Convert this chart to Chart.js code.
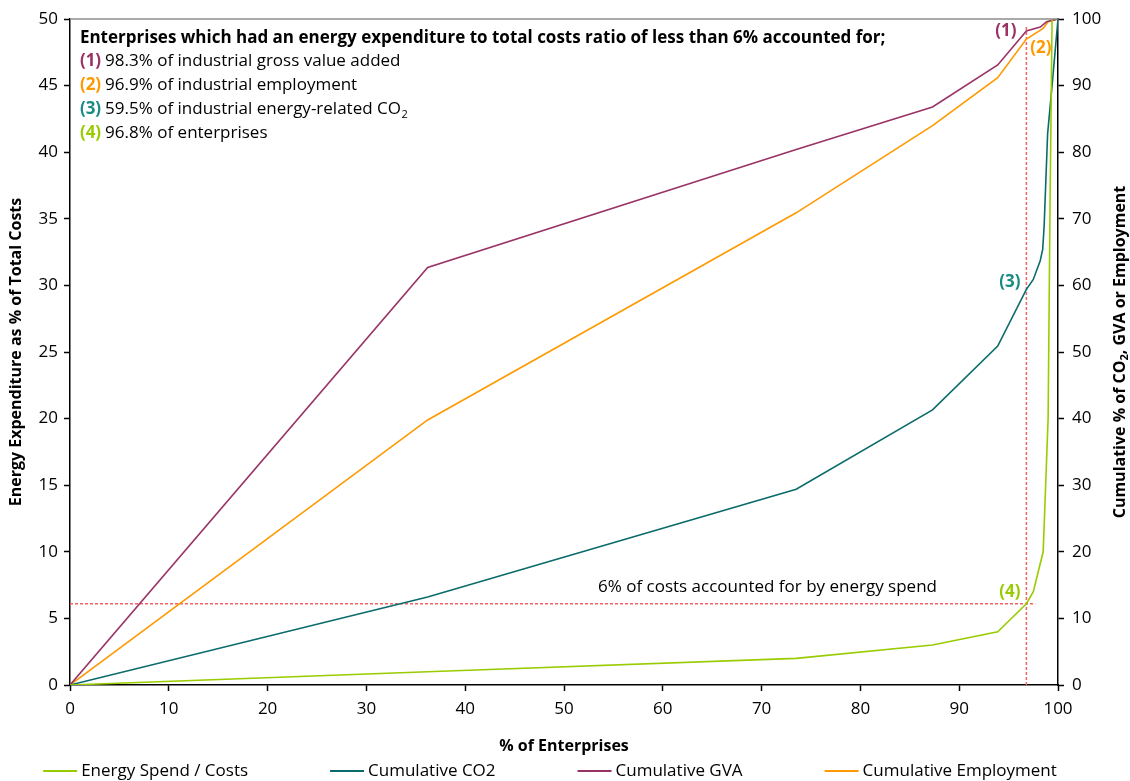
<!DOCTYPE html>
<html>
<head>
<meta charset="utf-8">
<script src="https://cdn.jsdelivr.net/npm/chart.js@4.4.1/dist/chart.umd.min.js"></script>
<style>
  html, body { margin: 0; padding: 0; background: #fff; }
  #wrap { width: 1130px; height: 781px; }
</style>
</head>
<body>
<div id="wrap"><canvas id="grafico" width="1130" height="781"></canvas></div>
<script>
// series: x = % of enterprises
const energyX = [0, 36.2, 73.5, 87.3, 93.9, 96.8, 97.5, 98.5, 98.7, 99.0, 99.2, 99.4];
const energyY = [0, 1.0, 2.0, 3.0, 4.0, 6.1, 7.0, 10.0, 14.0, 20.0, 36.5, 50.0];

const co2X = [0, 36.2, 73.5, 87.3, 93.9, 96.8, 97.5, 98.2, 98.45, 98.6, 98.95, 99.4, 100];
const co2Y = [0, 13.2, 29.4, 41.3, 50.9, 59.4, 60.9, 63.7, 65.4, 69.0, 82.8, 90.0, 100];

const gvaX = [0, 36.2, 73.5, 87.3, 93.9, 96.8, 98.2, 98.85, 100];
const gvaY = [0, 62.7, 80.4, 86.8, 93.1, 98.2, 98.8, 99.6, 100];

const empX = [0, 36.2, 73.5, 87.3, 93.9, 96.8, 98.5, 99.0, 100];
const empY = [0, 39.8, 70.9, 84.0, 91.2, 97.0, 98.6, 99.6, 100];

const seriesNames = ['Energy Spend / Costs', 'Cumulative CO2', 'Cumulative GVA', 'Cumulative Employment'];

// 6% threshold and the share of enterprises under it
const thresholdCost = 6.1;
const thresholdEnterprises = 96.8;

const noteTitle = 'Enterprises which had an energy expenditure to total costs ratio of less than 6% accounted for;';
const noteTags = ['(1)', '(2)', '(3)', '(4)'];
const noteTexts = ['98.3% of industrial gross value added', '96.9% of industrial employment', '59.5% of industrial energy-related CO', '96.8% of enterprises'];
const thresholdText = '6% of costs accounted for by energy spend';
const rightTitle = ['Cumulative % of CO', '2', ', GVA or Employment'];

const cores = ['#99cc00', '#0b6b6b', '#993366', '#ff9900'];
const coresTag = ['#993366', '#ff9900', '#1a8a84', '#99cc00'];
const vermelho = '#f26262';
const FONTE = '"Open Sans", Lato, sans-serif';

const pares = (xs, ys) => xs.map((v, i) => ({ x: v, y: ys[i] }));

const notas = {
    id: 'notas',
    beforeDraw(chart) {
        const { ctx } = chart;
        ctx.save();
        ctx.fillStyle = '#fff';
        ctx.fillRect(0, 0, chart.width, chart.height);
        ctx.restore();
    },
    afterDraw(chart) {
        const { ctx, chartArea: a, scales: { x, y, y2 } } = chart;
        ctx.save();

        // linha cinza no topo
        ctx.strokeStyle = '#8c8c8c';
        ctx.lineWidth = 1.5;
        ctx.beginPath();
        ctx.moveTo(a.left, a.top);
        ctx.lineTo(a.right, a.top);
        ctx.stroke();

        ctx.textBaseline = 'middle';
        ctx.textAlign = 'left';
        const x0 = x.getPixelForValue(1);
        ctx.fillStyle = '#000';
        ctx.font = 'bold 17px ' + FONTE;
        ctx.fillText(noteTitle, x0, a.top + 19);

        noteTags.forEach((tag, i) => {
            const yy = a.top + 42.5 + i * 24;
            ctx.font = 'bold 17px ' + FONTE;
            ctx.fillStyle = coresTag[i];
            ctx.fillText(tag, x0, yy);
            const w = ctx.measureText(tag).width + 4;
            ctx.font = '17px ' + FONTE;
            ctx.fillStyle = '#000';
            ctx.fillText(noteTexts[i], x0 + w, yy);
            if (i === 2) {
                const w2 = ctx.measureText(noteTexts[i]).width;
                ctx.font = '11px ' + FONTE;
                ctx.fillText('2', x0 + w + w2 + 0.5, yy + 5);
            }
        });

        // rótulos junto às curvas
        ctx.font = 'bold 17px ' + FONTE;
        ctx.textAlign = 'right';
        ctx.fillStyle = coresTag[0];
        ctx.fillText(noteTags[0], x.getPixelForValue(95.8), y2.getPixelForValue(98.2));
        ctx.fillStyle = coresTag[2];
        ctx.fillText(noteTags[2], x.getPixelForValue(96.2), y2.getPixelForValue(60.5));
        ctx.fillStyle = coresTag[3];
        ctx.fillText(noteTags[3], x.getPixelForValue(96.2), y.getPixelForValue(7.0));
        ctx.textAlign = 'left';
        ctx.fillStyle = coresTag[1];
        ctx.fillText(noteTags[1], x.getPixelForValue(97.2), y2.getPixelForValue(95.6));

        ctx.font = '17px ' + FONTE;
        ctx.fillStyle = '#000';
        ctx.textAlign = 'right';
        ctx.fillText(thresholdText, x.getPixelForValue(87.75), y.getPixelForValue(7.35));

        // título do eixo direito, lido de baixo para cima
        ctx.save();
        ctx.translate(chart.width - 10, (a.top + a.bottom) / 2);
        ctx.rotate(-Math.PI / 2);
        ctx.font = 'bold 16px ' + FONTE;
        const wa = ctx.measureText(rightTitle[0]).width;
        const wc = ctx.measureText(rightTitle[2]).width;
        ctx.font = 'bold 11px ' + FONTE;
        const wb = ctx.measureText(rightTitle[1]).width;
        let px = -(wa + wb + wc) / 2;
        ctx.textAlign = 'left';
        ctx.fillStyle = '#000';
        ctx.font = 'bold 16px ' + FONTE;
        ctx.fillText(rightTitle[0], px, 0);
        ctx.font = 'bold 11px ' + FONTE;
        ctx.fillText(rightTitle[1], px + wa, 5);
        ctx.font = 'bold 16px ' + FONTE;
        ctx.fillText(rightTitle[2], px + wa + wb, 0);
        ctx.restore();

        // legenda
        ctx.font = '17px ' + FONTE;
        const linha = 34, folga = 4, gap = 82;
        const larg = seriesNames.map(n => linha + folga + ctx.measureText(n).width);
        const total = larg.reduce((s, v) => s + v, 0) + gap * (larg.length - 1);
        let lx = 550 - total / 2;
        const ly = 771;
        seriesNames.forEach((n, i) => {
            ctx.strokeStyle = cores[i];
            ctx.lineWidth = 2;
            ctx.beginPath();
            ctx.moveTo(lx, ly);
            ctx.lineTo(lx + linha, ly);
            ctx.stroke();
            ctx.fillStyle = '#000';
            ctx.textAlign = 'left';
            ctx.fillText(n, lx + linha + folga, ly);
            lx += larg[i] + gap;
        });
        ctx.restore();
    }
};

const ctx = document.getElementById('grafico').getContext('2d');
const meuGrafico = new Chart(ctx, {
    type: 'line',
    data: {
        datasets: [
            ...[[energyX, energyY, 'y'], [co2X, co2Y, 'y2'], [gvaX, gvaY, 'y2'], [empX, empY, 'y2']].map(([xs, ys, eixo], i) => ({
                label: seriesNames[i],
                data: pares(xs, ys),
                yAxisID: eixo,
                borderColor: cores[i],
                backgroundColor: cores[i],
                borderWidth: 1.6,
                pointRadius: 0,
                tension: 0,
                fill: false
            })),
            {
                label: 'limite-v',
                data: [{ x: thresholdEnterprises, y: 0 }, { x: thresholdEnterprises, y: 49.4 }],
                yAxisID: 'y',
                borderColor: vermelho,
                borderWidth: 1.5,
                borderDash: [3, 2],
                pointRadius: 0
            },
            {
                label: 'limite-h',
                data: [{ x: 0, y: thresholdCost }, { x: 97.7, y: thresholdCost }],
                yAxisID: 'y',
                borderColor: vermelho,
                borderWidth: 1.5,
                borderDash: [3, 2],
                pointRadius: 0
            }
        ]
    },
    options: {
        responsive: false,
        animation: false,
        devicePixelRatio: 1,
        layout: { padding: { top: 19, left: 0, right: 0, bottom: 24 } },
        scales: {
            x: {
                type: 'linear', min: 0, max: 100,
                ticks: { stepSize: 10, color: '#000', font: { family: FONTE, size: 17 }, padding: 8 },
                grid: { drawOnChartArea: false, color: '#000', tickLength: 6, tickWidth: 1.5 },
                border: { color: '#000', width: 1.5 },
                title: { display: true, text: '% of Enterprises', color: '#000', font: { family: FONTE, size: 16, weight: 'bold' }, padding: { top: 0, bottom: 1 } },
                afterFit: s => { s.height = 72; }
            },
            y: {
                position: 'left', min: 0, max: 50,
                ticks: { stepSize: 5, color: '#000', font: { family: FONTE, size: 17 }, padding: 6 },
                grid: { drawOnChartArea: false, color: '#000', tickLength: 6, tickWidth: 1.5 },
                border: { color: '#000', width: 1.5 },
                title: { display: true, text: 'Energy Expenditure as % of Total Costs', color: '#000', font: { family: FONTE, size: 16, weight: 'bold' }, padding: { top: 7, bottom: 0 } },
                afterFit: s => { s.width = 70; }
            },
            y2: {
                position: 'right', min: 0, max: 100,
                ticks: { stepSize: 10, color: '#000', font: { family: FONTE, size: 17 }, padding: 8 },
                grid: { drawOnChartArea: false, color: '#000', tickLength: 6, tickWidth: 1.5 },
                border: { color: '#000', width: 1.5 },
                title: { display: false },
                afterFit: s => { s.width = 72; }
            }
        },
        plugins: {
            legend: { display: false },
            tooltip: { enabled: false }
        }
    },
    plugins: [notas]
});
</script>
</body>
</html>
